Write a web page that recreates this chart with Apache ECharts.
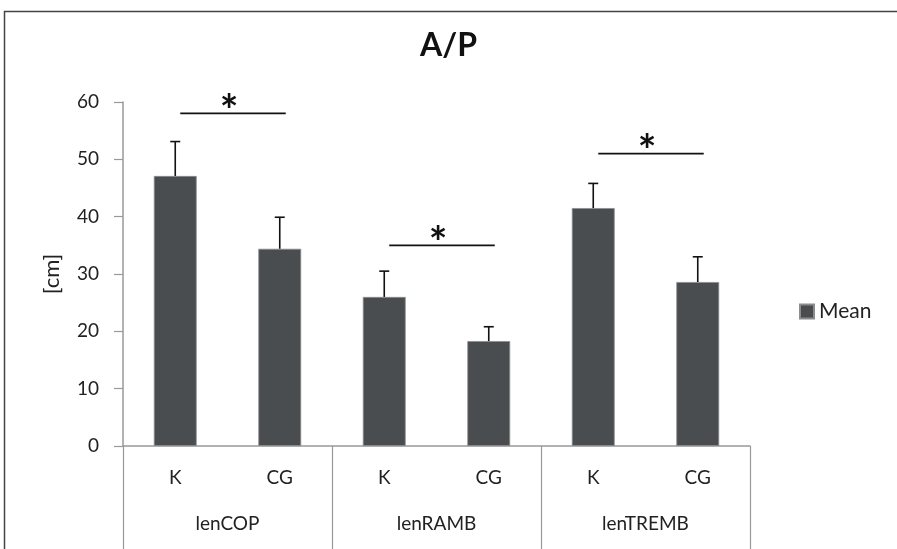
<!DOCTYPE html>
<html><head><meta charset="utf-8">
<script src="https://cdn.jsdelivr.net/npm/echarts@6/dist/echarts.min.js"></script>
<style>html,body{margin:0;padding:0;background:#fff}#c{width:897px;height:549px}</style>
</head><body><div id="c"></div>
<script>
const categories = ['K', 'CG', 'K', 'CG', 'K', 'CG'];
const groups = ['lenCOP', 'lenRAMB', 'lenTREMB'];
const means = [47.1, 34.4, 26.0, 18.3, 41.5, 28.6];
const upper = [53.1, 39.9, 30.5, 20.8, 45.8, 33.0];
const brackets = [[0, 1, 58], [2, 3, 35], [4, 5, 51]];
const yTicks = { min: 0, max: 60, interval: 10 };

const FONT = 'Lato, "Open Sans", sans-serif';
const chart = echarts.init(document.getElementById('c'));
chart.setOption({
  animation: false,
  backgroundColor: '#fff',
  title: { text: 'A/P', left: 'center', top: 25, textStyle: { fontFamily: FONT, fontSize: 32, fontWeight: 'bold', color: '#111' } },
  legend: { data: ['Mean'], left: 794, top: 296, itemWidth: 14, itemHeight: 14, itemGap: 3,
    textStyle: { fontFamily: FONT, fontSize: 21, color: '#222' }, icon: 'rect' },
  graphic: [{ type: 'rect', shape: { x: 4.5, y: 11.5, width: 1000, height: 1000 }, style: { fill: 'none', stroke: '#444', lineWidth: 1.5 }, silent: true }],
  grid: { left: 123, right: 147, top: 102, bottom: 103 },
  xAxis: [
    { type: 'category', data: categories, position: 'bottom',
      axisLine: { lineStyle: { color: '#999', width: 1.5 } }, axisTick: { show: false },
      axisLabel: { margin: 22, fontFamily: FONT, fontSize: 19, color: '#222' } },
    { type: 'category', data: groups, position: 'bottom',
      axisLine: { show: false },
      axisTick: { show: true, length: 104, lineStyle: { color: '#999', width: 1.2 } },
      axisLabel: { margin: 68, fontFamily: FONT, fontSize: 19, color: '#222' } }
  ],
  yAxis: { type: 'value', min: yTicks.min, max: yTicks.max, interval: yTicks.interval,
    name: '[cm]', nameLocation: 'middle', nameGap: 60, nameRotate: 90,
    nameTextStyle: { fontFamily: FONT, fontSize: 22, color: '#222' },
    axisLine: { show: true, lineStyle: { color: '#999', width: 1.5 } },
    axisTick: { show: true, length: 9, lineStyle: { color: '#999', width: 1.2 } },
    splitLine: { show: false },
    axisLabel: { margin: 24, fontFamily: FONT, fontSize: 19, color: '#222' } },
  series: [
    { name: 'Mean', type: 'bar', data: means, barWidth: '41%',
      itemStyle: { color: '#4a4d4f', borderColor: '#8a8c8e', borderWidth: 0.8 } },
    { name: 'err', type: 'custom', data: means.map((m, i) => [i, m, upper[i]]), z: 5,
      renderItem: function (params, api) {
        const b = api.coord([api.value(0), api.value(1)]);
        const t = api.coord([api.value(0), api.value(2)]);
        return { type: 'group', children: [
          { type: 'line', shape: { x1: b[0], y1: b[1], x2: t[0], y2: t[1] }, style: { stroke: '#111', lineWidth: 1.6 } },
          { type: 'line', shape: { x1: t[0] - 5, y1: t[1], x2: t[0] + 5, y2: t[1] }, style: { stroke: '#111', lineWidth: 1.6 } }
        ] };
      } },
    { name: 'sig', type: 'custom', data: brackets, z: 5,
      renderItem: function (params, api) {
        const a = api.coord([api.value(0), api.value(2)]);
        const b = api.coord([api.value(1), api.value(2)]);
        const x1 = a[0] + 5, x2 = b[0] + 6;
        return { type: 'group', children: [
          { type: 'line', shape: { x1: x1, y1: a[1], x2: x2, y2: a[1] }, style: { stroke: '#111', lineWidth: 1.8 } },
          { type: 'text', style: { text: '*', x: (x1 + x2) / 2 - 4, y: a[1] - 2, align: 'center', verticalAlign: 'middle',
            font: 'bold 44px ' + FONT, fill: '#111' } }
        ] };
      } }
  ]
});
</script></body></html>
